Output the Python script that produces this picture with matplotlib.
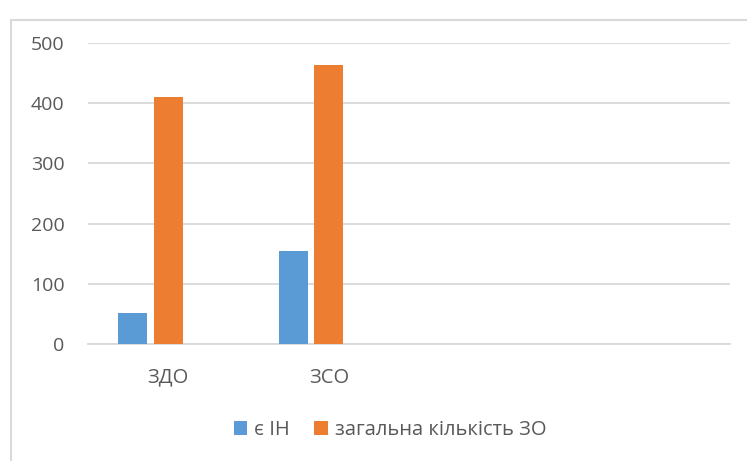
import matplotlib.pyplot as plt
from matplotlib.patches import Rectangle
import numpy as np

categories = ["ЗДО", "ЗСО"]
n_slots = 4  # chart area leaves room for two empty categories
has_in = [52, 155]
total_zo = [410, 463]
series_names = ["є ІН", "загальна кількість ЗО"]

BLUE = "#5B9BD5"
ORANGE = "#ED7D31"
GRID = "#D9D9D9"
TEXT = "#595959"

plt.rcParams['font.family'] = ['Open Sans', 'DejaVu Sans']

fig = plt.figure(figsize=(7.47, 4.61), dpi=100)
ax = fig.add_axes([88 / 747, 1 - 344 / 461, 642 / 747, 301 / 461])

x = np.arange(len(categories))
w = 0.18
step = 0.222
ax.bar(x - step, has_in, width=w, color=BLUE, label=series_names[0], zorder=3)
ax.bar(x, total_zo, width=w, color=ORANGE, label=series_names[1], zorder=3)

ax.set_xlim(-0.5, n_slots - 0.5)
ax.set_ylim(0, 500)
ax.set_yticks(range(0, 501, 100))
ax.set_xticks(x)
ax.set_xticklabels(categories)
ax.grid(axis='y', color=GRID, linewidth=1.3, zorder=0)
ax.set_axisbelow(True)
for s in ['top', 'right', 'left']:
    ax.spines[s].set_visible(False)
ax.spines['bottom'].set_color(GRID)
ax.spines['bottom'].set_linewidth(1.3)
ax.tick_params(axis='y', length=0, pad=17, labelsize=14, labelcolor=TEXT)
ax.tick_params(axis='x', length=0, pad=17, labelsize=14.5, labelcolor=TEXT)

# outer chart frame (partly cut off on right and bottom)
fig.patches.append(Rectangle((11 / 747, -0.2), 1.0, 1.2 + (1 - 20 / 461) - 1,
                             transform=fig.transFigure, fill=False,
                             edgecolor=GRID, linewidth=1.5))

fig.legend(loc='center', bbox_to_anchor=(390 / 747, 1 - 430 / 461), ncol=2,
           frameon=False, fontsize=14.5, labelcolor=TEXT, handlelength=0.68,
           handleheight=0.68, handletextpad=0.35, columnspacing=1.2)

fig.savefig("out.png", dpi=100)
